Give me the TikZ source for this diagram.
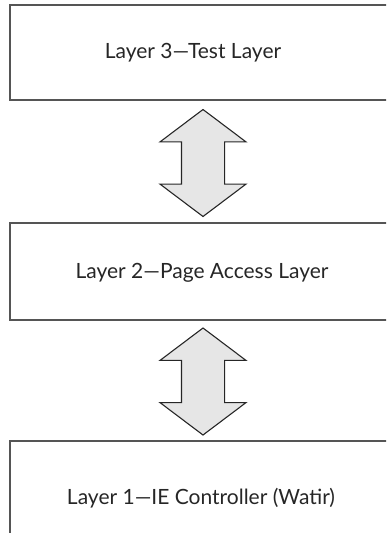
\documentclass[tikz,border=0pt]{standalone}
\usepackage{fontspec}
\setmainfont{Lato}
\usetikzlibrary{shapes.arrows}

\definecolor{frame}{HTML}{555555}
\definecolor{arrowfill}{HTML}{E6E6E6}

\begin{document}
\begin{tikzpicture}[
		x=1pt, y=-1pt,
		layer box/.style={draw=frame, line width=1.8pt},
		layer text/.style={font=\fontsize{21}{24}\selectfont, text=black!85, inner sep=0pt},
		updown/.style={double arrow, draw=black!85, fill=arrowfill, line width=1.1pt,
			rotate=90, minimum height=107pt, minimum width=85pt,
			double arrow head extend=21.5pt, double arrow tip angle=106,
			inner xsep=0pt, inner ysep=21pt}
		]
	
	% page
	\useasboundingbox (0,0) rectangle (386,533);
	\clip (0,0) rectangle (386,533);
	
	% ---------------------------------------------------------
	% Layers (the boxes run past the right edge)
	% ---------------------------------------------------------
	\draw[layer box] (10,5) rectangle (420,100);
	\node[layer text] (testlayer) at (193,53) {Layer 3—Test Layer};
	
	\draw[layer box] (10,223) rectangle (420,320);
	\node[layer text] (pagelayer) at (202,273) {Layer 2—Page Access Layer};
	
	\draw[layer box] (10,441) rectangle (420,560);
	\node[layer text] (ielayer) at (201,498) {Layer 1—IE Controller (Watir)};
	
	% ---------------------------------------------------------
	% Two-way arrows between the layers
	% ---------------------------------------------------------
	\node[updown] (testpage) at (203,163) {};
	\node[updown] (pageie) at (203,381.5) {};
	
\end{tikzpicture}
\end{document}
